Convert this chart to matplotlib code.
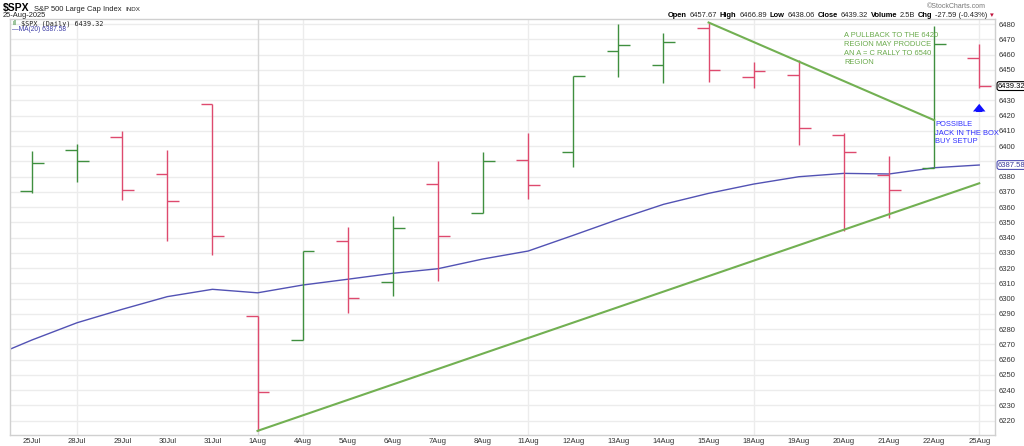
import matplotlib
matplotlib.use("Agg")
import matplotlib.pyplot as plt
from matplotlib.offsetbox import TextArea, HPacker, AnchoredOffsetbox

# daily OHLC for $SPX, 25 Jul - 25 Aug 2025
days = ["25Jul", "28Jul", "29Jul", "30Jul", "31Jul", "1Aug", "4Aug", "5Aug",
        "6Aug", "7Aug", "8Aug", "11Aug", "12Aug", "13Aug", "14Aug", "15Aug",
        "18Aug", "19Aug", "20Aug", "21Aug", "22Aug", "25Aug"]
opens = [6370.5, 6397.6, 6406.2, 6381.8, 6427.5, 6288.4, 6272.7, 6337.6,
         6310.7, 6375.1, 6356.1, 6390.7, 6395.8, 6462.5, 6453.4, 6477.2,
         6445.2, 6446.5, 6407.0, 6381.2, 6385.6, 6457.67]
highs = [6396.5, 6401.6, 6409.8, 6397.2, 6427.5, 6288.4, 6331.2, 6347.1,
         6354.2, 6390.4, 6396.1, 6408.5, 6446.2, 6480.0, 6473.8, 6481.0,
         6455.2, 6456.3, 6408.8, 6393.8, 6478.6, 6466.89]
lows = [6369.2, 6376.5, 6364.6, 6337.6, 6328.6, 6213.3, 6272.7, 6290.4,
        6301.9, 6311.4, 6356.1, 6365.1, 6386.2, 6445.0, 6441.3, 6442.2,
        6437.8, 6400.7, 6344.6, 6352.9, 6385.6, 6438.06]
closes = [6389.0, 6390.3, 6371.4, 6363.8, 6340.9, 6238.6, 6331.2, 6300.2,
          6346.1, 6341.0, 6390.0, 6374.5, 6445.8, 6466.4, 6468.2, 6449.9,
          6449.3, 6412.0, 6396.4, 6371.0, 6467.0, 6439.32]

# 20-day moving average, first value is 24Jul (just off the left edge)
ma_days = ["24Jul"] + days
ma20 = [6260.5, 6272.9, 6284.2, 6293.0, 6301.3, 6306.1, 6303.8, 6308.9,
        6312.7, 6316.6, 6319.6, 6326.0, 6331.2, 6341.5, 6352.0, 6361.8,
        6369.0, 6375.1, 6379.9, 6382.1, 6381.7, 6385.8, 6387.58]

# hand-drawn trend lines
lower_days = ["1Aug", "25Aug"]
lower_vals = [6213.3, 6375.6]
upper_days = ["15Aug", "22Aug"]
upper_vals = [6481.0, 6417.0]

UP = "#3f8f3f"
DOWN = "#de4a6e"
MA_COL = "#5252b4"
TREND = "#72b052"
FONT = ["Liberation Sans", "DejaVu Sans"]

plt.rcParams["font.family"] = FONT

W, H = 1024, 446
fig = plt.figure(figsize=(W / 100, H / 100), dpi=100)
fig.patch.set_facecolor("white")
ax = fig.add_axes([10 / W, 1 - 435 / H, 985 / W, 416 / H])

idx = {d: i for i, d in enumerate(days)}
idx["24Jul"] = -1

# grid
for v in range(6220, 6490, 10):
    ax.axhline(v, color="#ececec", lw=1.0, zorder=0)
for d in ["28Jul", "4Aug", "11Aug", "18Aug", "25Aug"]:
    ax.axvline(idx[d], color="#ececec", lw=1.0, zorder=0)
ax.axvline(idx["1Aug"], color="#d6d6d6", lw=1.0, zorder=0)

# OHLC bars, coloured by close vs previous close
tick = 0.26
prev = None
for i, (o, h, l, c) in enumerate(zip(opens, highs, lows, closes)):
    col = UP if (prev is None or c >= prev) else DOWN
    ax.plot([i, i], [l, h], color=col, lw=1.0, solid_capstyle="butt", zorder=3)
    ax.plot([i - tick, i], [o, o], color=col, lw=1.0, solid_capstyle="butt", zorder=3)
    ax.plot([i, i + tick], [c, c], color=col, lw=1.0, solid_capstyle="butt", zorder=3)
    prev = c

# moving average
ax.plot([idx[d] for d in ma_days], ma20, color=MA_COL, lw=1.0, zorder=2)

# trend lines
ax.plot([idx[d] for d in lower_days], lower_vals, color=TREND, lw=1.5, zorder=4)
ax.plot([idx[d] for d in upper_days], upper_vals, color=TREND, lw=1.5, zorder=4)

# annotations
ax.text(18.0, 6474.5, "A PULLBACK TO THE 6420\nREGION MAY PRODUCE\nAN A = C RALLY TO 6540\nREGION",
        color="#6aaa4c", fontsize=5.4, ha="left", va="top", linespacing=1.35, zorder=5)
ax.text(20.02, 6416.5, "POSSIBLE\nJACK IN THE BOX\nBUY SETUP",
        color="#2f2fff", fontsize=5.4, ha="left", va="top", linespacing=1.35, zorder=5)
ax.annotate("", xy=(21, 6429.5), xytext=(21, 6420.5),
            arrowprops=dict(arrowstyle="simple,head_width=0.9,head_length=0.55,tail_width=0.45",
                            color="#1010ff", lw=0), zorder=5)

ax.set_xlim(-0.488, 21.35)
ax.set_ylim(6210.6, 6483.3)

ax.set_xticks(range(len(days)))
ax.set_xticklabels(days)
yt = list(range(6220, 6490, 10))
ax.set_yticks(yt)
# labels hidden behind the last-value tags
ax.set_yticklabels(["" if v in (6440, 6390) else str(v) for v in yt])
ax.yaxis.tick_right()
ax.tick_params(axis="both", length=0, labelsize=5.5, colors="#333333")
ax.tick_params(axis="x", pad=2)
ax.tick_params(axis="y", pad=2.5)
for s in ax.spines.values():
    s.set_color("#d0d0d0")
    s.set_linewidth(1.0)

# last-value tags on the price scale
ax.text(1.003, closes[-1], "%.2f" % closes[-1], transform=ax.get_yaxis_transform(),
        fontsize=5.5, ha="left", va="center", color="black",
        bbox=dict(boxstyle="round,pad=0.12,rounding_size=0.3", fc="white", ec="black", lw=0.8))
ax.text(1.003, ma20[-1], "%.2f" % ma20[-1], transform=ax.get_yaxis_transform(),
        fontsize=5.5, ha="left", va="center", color="#3a3a9a",
        bbox=dict(boxstyle="round,pad=0.12,rounding_size=0.3", fc="white", ec=MA_COL, lw=0.8))

# in-chart legend
ax.text(0.011, 0.988, "$SPX (Daily) 6439.32", transform=ax.transAxes, fontsize=4.9,
        family="DejaVu Sans Mono", color="#222222", ha="left", va="center")
ax.text(0.0025, 0.988, "ıl", transform=ax.transAxes, fontsize=5.0, color=UP,
        ha="left", va="center", fontweight="bold")
ax.text(0.0025, 0.975, "\u2014MA(20) 6387.58", transform=ax.transAxes, fontsize=4.8,
        color="#3a3aa6", ha="left", va="center")


def header(parts, anchor, loc, sep=2):
    boxes = [TextArea(s, textprops=dict(fontsize=fs, fontweight=w, color=c, family=FONT))
             for s, fs, w, c in parts]
    pack = HPacker(children=boxes, align="baseline", pad=0, sep=sep)
    box = AnchoredOffsetbox(loc=loc, child=pack, pad=0, borderpad=0, frameon=False,
                            bbox_to_anchor=anchor, bbox_transform=fig.transFigure)
    fig.add_artist(box)


header([("$SPX", 7.5, "bold", "black"),
        ("S&P 500 Large Cap Index", 5.4, "normal", "#222222"),
        ("INDX", 4.5, "normal", "#222222")],
       (3 / W, 1 - 8 / H), "center left", sep=3)
fig.text(3 / W, 1 - 15.5 / H, "25-Aug-2025", fontsize=5.4, color="#222222", va="center")

header([("Open", 5.4, "bold", "black"), ("6457.67", 5.4, "normal", "#222222"),
        ("High", 5.4, "bold", "black"), ("6466.89", 5.4, "normal", "#222222"),
        ("Low", 5.4, "bold", "black"), ("6438.06", 5.4, "normal", "#222222"),
        ("Close", 5.4, "bold", "black"), ("6439.32", 5.4, "normal", "#222222"),
        ("Volume", 5.4, "bold", "black"), ("2.5B", 5.4, "normal", "#222222"),
        ("Chg", 5.4, "bold", "black"), ("-27.59 (-0.43%)", 5.4, "normal", "#222222"),
        ("\u25be", 5.4, "normal", "#c0143c")],
       (994 / W, 1 - 15.5 / H), "center right")
fig.text(986 / W, 1 - 6 / H, "\u00a9StockCharts.com", fontsize=5.0, color="#777777",
         ha="right", va="center")

fig.savefig("out.png", dpi=100, facecolor="white")
